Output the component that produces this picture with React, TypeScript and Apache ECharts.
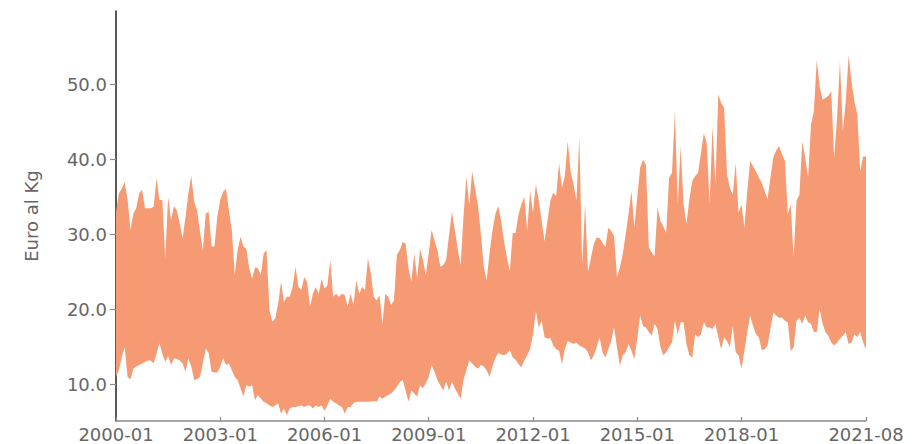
import React, { useEffect, useRef } from "react";
import * as echarts from "echarts";

const START_YEAR = 2000;
const MONTH_COUNT = 260; // 2000-01 .. 2021-08

const X_TICK_LABELS = ["2000-01", "2003-01", "2006-01", "2009-01", "2012-01", "2015-01", "2018-01", "2021-08"];

const Y_NAME = "Euro al Kg";

const UPPER = [
  33.0, 35.5, 36.1, 37.0, 34.6, 30.6, 32.8, 33.5, 35.5, 36.0, 33.5, 33.5,
  33.5, 33.7, 37.5, 34.6, 34.6, 26.8, 35.0, 31.9, 33.8, 33.2, 31.5, 29.5,
  32.3, 35.5, 37.8, 34.4, 33.2, 30.4, 27.9, 32.8, 33.0, 28.4, 28.4, 32.4,
  34.6, 35.7, 36.1, 33.2, 30.6, 24.6, 27.9, 29.7, 28.4, 28.1, 25.5, 24.1,
  25.6, 25.5, 24.6, 27.5, 27.9, 19.9, 18.4, 18.8, 20.8, 23.7, 21.0, 21.7,
  21.7, 23.0, 25.7, 23.0, 22.6, 24.3, 23.7, 20.4, 22.1, 23.0, 22.1, 24.1,
  22.8, 23.2, 26.6, 21.7, 22.1, 21.7, 22.1, 21.9, 20.4, 22.1, 20.6, 23.9,
  22.1, 23.0, 22.6, 26.8, 24.8, 21.7, 21.2, 21.9, 18.1, 22.1, 21.7, 20.6,
  21.2, 27.3, 27.9, 29.0, 28.8, 25.5, 23.7, 27.5, 24.1, 28.1, 26.6, 24.6,
  27.5, 30.6, 29.2, 27.9, 25.7, 25.9, 26.6, 29.9, 33.0, 30.6, 28.1, 25.9,
  32.4, 37.7, 33.9, 38.4, 36.1, 33.9, 30.1, 25.7, 23.9, 27.5, 30.5, 32.7,
  33.8, 31.8, 29.1, 26.9, 25.1, 30.2, 30.2, 32.7, 34.0, 35.0, 30.5, 35.8,
  32.9, 36.7, 34.5, 31.8, 29.1, 31.8, 34.5, 35.6, 35.1, 39.5, 36.2, 37.8,
  42.4, 38.4, 36.7, 34.5, 42.9, 26.0, 34.0, 25.0, 26.9, 28.7, 29.6, 29.5,
  28.9, 28.3, 30.9, 30.5, 29.8, 24.3, 25.6, 27.4, 30.0, 32.7, 35.8, 30.9,
  34.9, 38.9, 40.0, 39.3, 28.3, 27.6, 27.1, 33.6, 31.8, 31.1, 30.2, 37.6,
  38.2, 46.4, 34.0, 41.8, 34.0, 31.4, 34.7, 37.1, 37.8, 38.2, 40.9, 43.5,
  42.2, 34.0, 44.4, 36.7, 48.7, 47.5, 46.9, 38.0, 36.2, 35.3, 39.5, 32.9,
  34.0, 30.9, 35.8, 39.8, 39.1, 38.4, 37.6, 36.9, 35.8, 34.7, 37.6, 40.3,
  41.2, 41.8, 40.7, 39.8, 32.7, 34.0, 26.9, 34.5, 35.3, 42.4, 40.2, 37.6,
  44.6, 46.4, 53.3, 49.7, 48.0, 48.2, 48.5, 49.1, 40.2, 45.5, 53.1, 43.8,
  47.7, 53.9, 50.4, 47.7, 46.0, 38.4, 40.4, 40.4,
];

const LOWER = [
  11.0, 11.9, 13.7, 15.0, 11.0, 10.7, 12.1, 12.4, 12.6, 12.8, 13.0, 13.2,
  13.2, 12.8, 14.1, 15.5, 14.1, 13.0, 13.8, 12.6, 13.5, 13.4, 13.2, 12.8,
  11.7, 13.5, 12.4, 10.6, 10.7, 11.0, 12.8, 14.8, 14.2, 11.7, 11.6, 11.6,
  12.4, 13.5, 12.6, 12.8, 11.9, 11.0, 10.6, 9.5, 8.4, 9.9, 9.7, 9.9,
  7.9, 8.6, 8.1, 7.7, 7.5, 7.2, 7.0, 7.2, 7.5, 6.1, 6.8, 5.9,
  6.8, 7.0, 7.0, 7.1, 7.2, 7.0, 7.2, 7.2, 6.8, 7.2, 7.0, 7.2,
  6.5, 7.2, 8.1, 7.7, 7.5, 7.2, 7.0, 6.1, 7.0, 7.0, 7.5, 7.7,
  7.7, 7.7, 7.7, 7.7, 7.7, 7.8, 7.7, 8.4, 8.1, 8.4, 8.6, 8.8,
  9.2, 9.7, 10.3, 10.6, 9.2, 7.7, 9.2, 8.8, 8.4, 9.9, 9.5, 10.2,
  11.0, 12.6, 11.7, 10.6, 9.9, 9.2, 10.4, 9.2, 10.4, 9.5, 8.8, 8.1,
  10.6, 11.9, 13.2, 12.8, 12.4, 12.1, 12.6, 12.4, 11.9, 11.0, 12.4, 13.5,
  14.2, 14.0, 13.9, 14.1, 14.6, 13.6, 13.3, 12.7, 12.3, 13.2, 13.9, 14.7,
  16.7, 19.8, 17.6, 18.5, 16.3, 16.1, 16.2, 15.2, 14.7, 14.5, 12.7, 14.7,
  15.8, 15.6, 15.4, 15.6, 15.2, 15.0, 14.8, 14.3, 13.2, 13.9, 15.0, 16.3,
  14.3, 13.6, 14.7, 15.8, 17.6, 15.0, 12.5, 13.9, 14.3, 15.4, 14.5, 13.4,
  16.1, 19.2, 17.8, 17.6, 17.0, 16.5, 18.1, 17.4, 15.0, 13.9, 14.3, 15.0,
  15.6, 18.5, 16.7, 18.3, 18.3, 15.4, 13.9, 13.6, 16.7, 16.3, 16.7, 18.3,
  17.6, 17.6, 17.4, 18.1, 16.3, 14.7, 16.3, 15.8, 15.0, 17.8, 14.3, 13.9,
  12.1, 14.5, 17.0, 19.2, 17.8, 16.7, 16.3, 14.6, 14.7, 15.2, 17.4, 19.6,
  19.2, 18.9, 18.9, 18.5, 18.3, 14.5, 14.9, 18.5, 18.9, 18.1, 19.2, 18.3,
  18.1, 17.0, 17.0, 20.1, 18.1, 17.0, 16.5, 15.6, 15.2, 15.6, 16.1, 16.5,
  17.0, 15.4, 15.6, 16.7, 16.3, 17.0, 15.6, 14.7,
];

const CATEGORIES: string[] = [];
for (let i = 0; i < MONTH_COUNT; i++) {
  const y = START_YEAR + Math.floor(i / 12);
  const m = (i % 12) + 1;
  CATEGORIES.push(`${y}-${m < 10 ? "0" + m : m}`);
}

const FONT = "DejaVu Sans";

export default function App() {
  const ref = useRef<HTMLDivElement>(null);

  useEffect(() => {
    document.body.style.margin = "0";
    if (!ref.current) return;
    const chart = echarts.init(ref.current, undefined, { renderer: "svg" });
    const band = UPPER.map((u, i) => +(u - LOWER[i]).toFixed(2));
    const showIdx = (i: number) => X_TICK_LABELS.indexOf(CATEGORIES[i]) >= 0;

    chart.setOption({
      animation: false,
      textStyle: { fontFamily: FONT },
      grid: { left: 116, right: 52, top: 11, bottom: 23, containLabel: false },
      xAxis: {
        type: "category",
        data: CATEGORIES,
        boundaryGap: false,
        axisLine: { show: true, lineStyle: { color: "#8a8a8a", width: 1.5 } },
        axisTick: {
          show: true,
          inside: true,
          length: 4,
          interval: (i: number) => showIdx(i),
          lineStyle: { color: "#8a8a8a", width: 1.2 },
        },
        axisLabel: {
          interval: (i: number) => showIdx(i),
          color: "#666",
          fontSize: 18,
          fontFamily: FONT,
          margin: 4,
          showMinLabel: true,
          showMaxLabel: true,
        },
        splitLine: { show: false },
      },
      yAxis: {
        type: "value",
        min: 5.15,
        max: 59.8,
        splitNumber: 5,
        name: Y_NAME,
        nameLocation: "middle",
        nameGap: 76,
        nameTextStyle: { color: "#666", fontSize: 18, fontFamily: FONT },
        axisLine: { show: true, lineStyle: { color: "#222", width: 1.5 } },
        axisTick: { show: true, length: 6, lineStyle: { color: "#8a8a8a", width: 1.2 } },
        axisLabel: {
          color: "#666",
          fontSize: 18,
          fontFamily: FONT,
          margin: 9,
          showMinLabel: false,
          showMaxLabel: false,
          formatter: (v: number) => v.toFixed(1),
        },
        splitLine: { show: false },
      },
      series: [
        {
          type: "line",
          data: LOWER,
          stack: "band",
          symbol: "none",
          lineStyle: { opacity: 0, width: 0 },
          silent: true,
        },
        {
          type: "line",
          data: band,
          stack: "band",
          symbol: "none",
          lineStyle: { opacity: 0, width: 0 },
          areaStyle: { color: "#f59a72", opacity: 1 },
          silent: true,
        },
      ],
    });
    return () => chart.dispose();
  }, []);

  return <div ref={ref} style={{ width: 918, height: 444 }} />;
}
